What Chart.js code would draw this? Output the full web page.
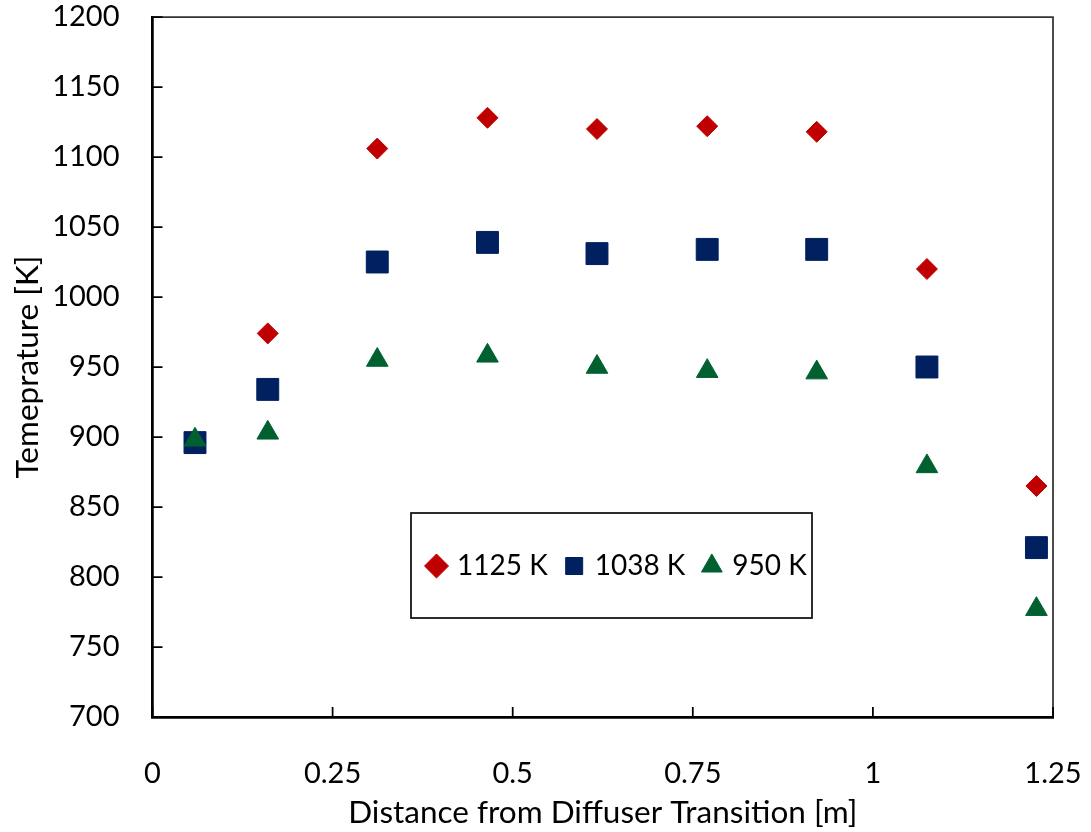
<!DOCTYPE html>
<html>
<head>
<meta charset="utf-8">
<script src="https://cdn.jsdelivr.net/npm/chart.js@4/dist/chart.umd.min.js"></script>
<style>
  html, body { margin: 0; padding: 0; background: #fff; }
  #wrap { width: 1091px; height: 832px; position: relative; }
</style>
</head>
<body>
<div id="wrap"><canvas id="tempChart"></canvas></div>
<script>
// distance from diffuser transition [m]
const distances = [0.059, 0.160, 0.312, 0.465, 0.617, 0.770, 0.922, 1.075, 1.227];

// measured temperatures [K] for each inlet temperature
const temps1125 = [897, 974, 1106, 1128, 1120, 1122, 1118, 1020, 865];
const temps1038 = [896, 934, 1025, 1039, 1031, 1034, 1034, 950, 821];
const temps950 = [898, 903, 955, 958, 950, 947, 946, 879, 777];

const seriesLabels = ["1125 K", "1038 K", "950 K"];

// tick values and labels
const xTicks = [0, 0.25, 0.5, 0.75, 1, 1.25];
const xTickLabels = ["0", "0.25", "0.5", "0.75", "1", "1.25"];
const yTicks = [700, 750, 800, 850, 900, 950, 1000, 1050, 1100, 1150, 1200];
const yTickLabels = ["700", "750", "800", "850", "900", "950", "1000", "1050", "1100", "1150", "1200"];

const FONT = "Lato, 'Open Sans', sans-serif";
const FS = 29;
const LEGEND_FS = 28;
const TITLE_FS = 31.5;

function toPoints(xs, ys) {
  return xs.map((x, i) => ({ x: x, y: ys[i] }));
}

// inward ticks, top/right frame and legend box
const frame = {
  id: "frame",
  beforeLayout(chart) {
    const lg = chart.legend;
    if (lg && !lg._noSpace) {
      const fit = lg.fit;
      lg.fit = function () { fit.call(this); this.height = 0; };
      lg._noSpace = true;
    }
  },
  afterLayout(chart) {
    const lg = chart.legend;
    if (!lg) return;
    lg.left = 410; lg.right = 860; lg.width = 450;
    lg.top = 532; lg.bottom = 602; lg.height = 70;
  },
  afterDraw(chart) {
    const ctx = chart.ctx;
    const a = chart.chartArea;
    const xs = chart.scales.x, ys = chart.scales.y;
    ctx.save();
    // top and right border
    ctx.strokeStyle = "#333";
    ctx.lineWidth = 1.75;
    ctx.beginPath();
    ctx.moveTo(a.left, a.top);
    ctx.lineTo(a.right, a.top);
    ctx.lineTo(a.right, a.bottom);
    ctx.stroke();
    // inward ticks
    ctx.strokeStyle = "#000";
    ctx.lineWidth = 1.75;
    ctx.beginPath();
    yTicks.forEach(v => {
      const py = ys.getPixelForValue(v);
      ctx.moveTo(a.left, py);
      ctx.lineTo(a.left + 10, py);
    });
    xTicks.forEach(v => {
      const px = xs.getPixelForValue(v);
      ctx.moveTo(px, a.bottom);
      ctx.lineTo(px, a.bottom - 10);
    });
    ctx.stroke();
    // legend frame
    ctx.strokeStyle = "#111";
    ctx.lineWidth = 1.75;
    ctx.strokeRect(411, 513, 401, 105);
    ctx.restore();
  }
};

const ctx = document.getElementById("tempChart").getContext("2d");
new Chart(ctx, {
  type: "scatter",
  data: {
    datasets: [
      {
        label: seriesLabels[0],
        data: toPoints(distances, temps1125),
        pointStyle: "rectRot",
        pointRadius: 10.5,
        backgroundColor: "#C00000",
        borderColor: "#C00000",
        borderWidth: 1,
        order: 2
      },
      {
        label: seriesLabels[1],
        data: toPoints(distances, temps1038),
        pointStyle: "rect",
        pointRadius: 15.5,
        backgroundColor: "#002060",
        borderColor: "#002060",
        borderWidth: 1,
        order: 1
      },
      {
        label: seriesLabels[2],
        data: toPoints(distances, temps950),
        pointStyle: "triangle",
        pointRadius: 12.5,
        backgroundColor: "#006030",
        borderColor: "#006030",
        borderWidth: 1,
        order: 0
      }
    ]
  },
  options: {
    responsive: true,
    maintainAspectRatio: false,
    animation: false,
    layout: { padding: { left: 0, top: 17, right: 38, bottom: 0 } },
    plugins: {
      tooltip: { enabled: false },
      legend: {
        display: true,
        position: "top",
        align: "start",
        labels: {
          usePointStyle: true,
          boxWidth: 13,
          boxHeight: 17,
          padding: 20,
          color: "#000",
          font: { family: FONT, size: LEGEND_FS },
          sort: (a, b) => a.datasetIndex - b.datasetIndex
        }
      }
    },
    scales: {
      x: {
        type: "linear",
        min: 0,
        max: 1.25,
        afterBuildTicks: s => { s.ticks = xTicks.map(v => ({ value: v })); },
        afterFit: s => { s.height = 115; s.paddingLeft = 0; s.paddingRight = 0; },
        grid: { display: false, drawTicks: false },
        border: { display: true, color: "#000", width: 2.75 },
        ticks: {
          padding: 39,
          color: "#000",
          font: { family: FONT, size: FS },
          maxRotation: 0,
          callback: (v, i) => xTickLabels[i]
        },
        title: {
          display: true,
          text: "Distance from Diffuser Transition [m]",
          color: "#000",
          font: { family: FONT, size: TITLE_FS },
          padding: { top: 0, bottom: 0 }
        }
      },
      y: {
        type: "linear",
        min: 700,
        max: 1200,
        afterBuildTicks: s => { s.ticks = yTicks.map(v => ({ value: v })); },
        afterFit: s => { s.width = 152.5; s.paddingTop = 0; s.paddingBottom = 0; },
        grid: { display: false, drawTicks: false },
        border: { display: true, color: "#000", width: 2.75 },
        ticks: {
          padding: 33,
          color: "#000",
          font: { family: FONT, size: FS },
          callback: (v, i) => yTickLabels[i]
        },
        title: {
          display: true,
          text: "Temeprature [K]",
          color: "#000",
          font: { family: FONT, size: TITLE_FS },
          padding: { top: 9, bottom: 0 }
        }
      }
    }
  },
  plugins: [frame]
});
</script>
</body>
</html>
